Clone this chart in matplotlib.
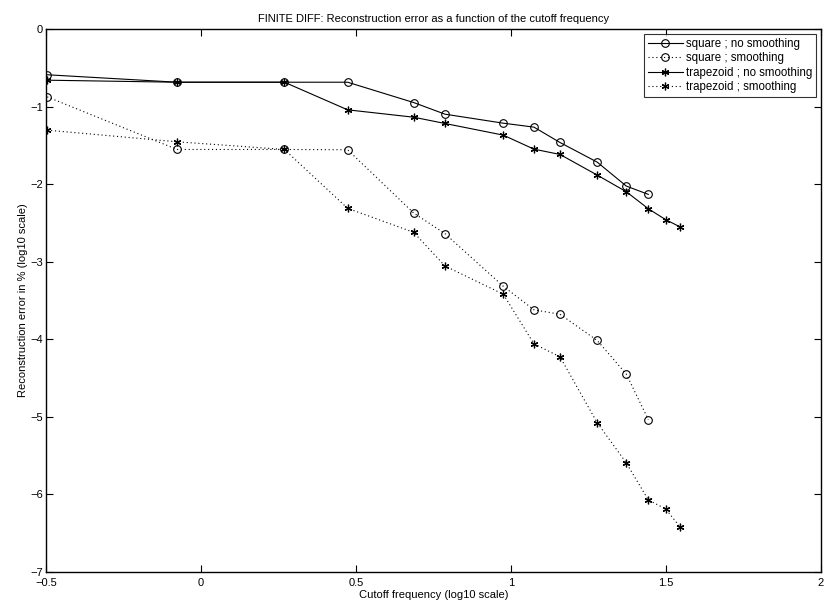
import matplotlib
matplotlib.use("Agg")
from matplotlib import pyplot as plt

plt.rcParams['font.family'] = ['Liberation Sans', 'DejaVu Sans']
plt.rcParams['axes.unicode_minus'] = True

# log10 cutoff frequencies
freq_sq = [-0.496, -0.077, 0.269, 0.473, 0.686, 0.787, 0.975, 1.074, 1.158, 1.278, 1.372, 1.443]
freq_tr = freq_sq + [1.499, 1.546]

# log10 reconstruction error
sq_nosmooth = [-0.59, -0.686, -0.686, -0.686, -0.948, -1.098, -1.214, -1.265, -1.463, -1.716, -2.025, -2.132]
sq_smooth = [-0.875, -1.553, -1.553, -1.557, -2.372, -2.638, -3.316, -3.62, -3.677, -4.015, -4.449, -5.036]
tr_nosmooth = [-0.66, -0.686, -0.686, -1.042, -1.137, -1.218, -1.368, -1.549, -1.617, -1.883,
               -2.098, -2.317, -2.458, -2.552]
tr_smooth = [-1.304, -1.454, -1.553, -2.312, -2.621, -3.055, -3.419, -4.058, -4.226, -5.075,
             -5.594, -6.071, -6.187, -6.422]

xticks = [-0.5, 0, 0.5, 1, 1.5, 2]
xticklabels = ['\u22120.5', '0', '0.5', '1', '1.5', '2']

fig = plt.figure(figsize=(8.25, 6.08), dpi=100)
ax = fig.add_axes([46/825, 36/608, 775/825, 543/608])

asterisk = (6, 2, 0)
dots = (0, (1, 2.5))
ax.plot(freq_sq, sq_nosmooth, 'k-', marker='o', mfc='none', ms=5.5, mew=0.8, lw=0.8,
        label='square ; no smoothing')
ax.plot(freq_sq, sq_smooth, color='k', ls=dots, marker='o', mfc='none', ms=5.5, mew=0.8, lw=0.8,
        label='square ; smoothing')
ax.plot(freq_tr, tr_nosmooth, 'k-', marker=asterisk, ms=5.5, mew=0.9, lw=0.8,
        label='trapezoid ; no smoothing')
ax.plot(freq_tr, tr_smooth, color='k', ls=dots, marker=asterisk, ms=5.5, mew=0.9, lw=0.8,
        label='trapezoid ; smoothing')

ax.set_xlim(-0.5, 2)
ax.set_ylim(-7, 0)
ax.set_xticks(xticks)
ax.set_xticklabels(xticklabels)
ax.set_yticks(range(-7, 1))
ax.tick_params(direction='in', top=True, right=True, length=5, width=0.8, labelsize=8, pad=2)
ax.tick_params(axis='x', pad=4.5)
for s in ax.spines.values():
    s.set_linewidth(1.0)

ax.set_xlabel('Cutoff frequency (log10 scale)', fontsize=8, labelpad=1.5)
ax.set_ylabel('Reconstruction error in % (log10 scale)', fontsize=8, labelpad=2)
ax.set_title('FINITE DIFF: Reconstruction error as a function of the cutoff frequency', fontsize=8, pad=5)

leg = ax.legend(loc='upper right', fontsize=8.3, fancybox=False, edgecolor='black',
                handlelength=3, borderaxespad=0.4, labelspacing=0.22, borderpad=0.35,
                handletextpad=0.3)
leg.get_frame().set_linewidth(0.8)

fig.savefig('out.png', dpi=100)
